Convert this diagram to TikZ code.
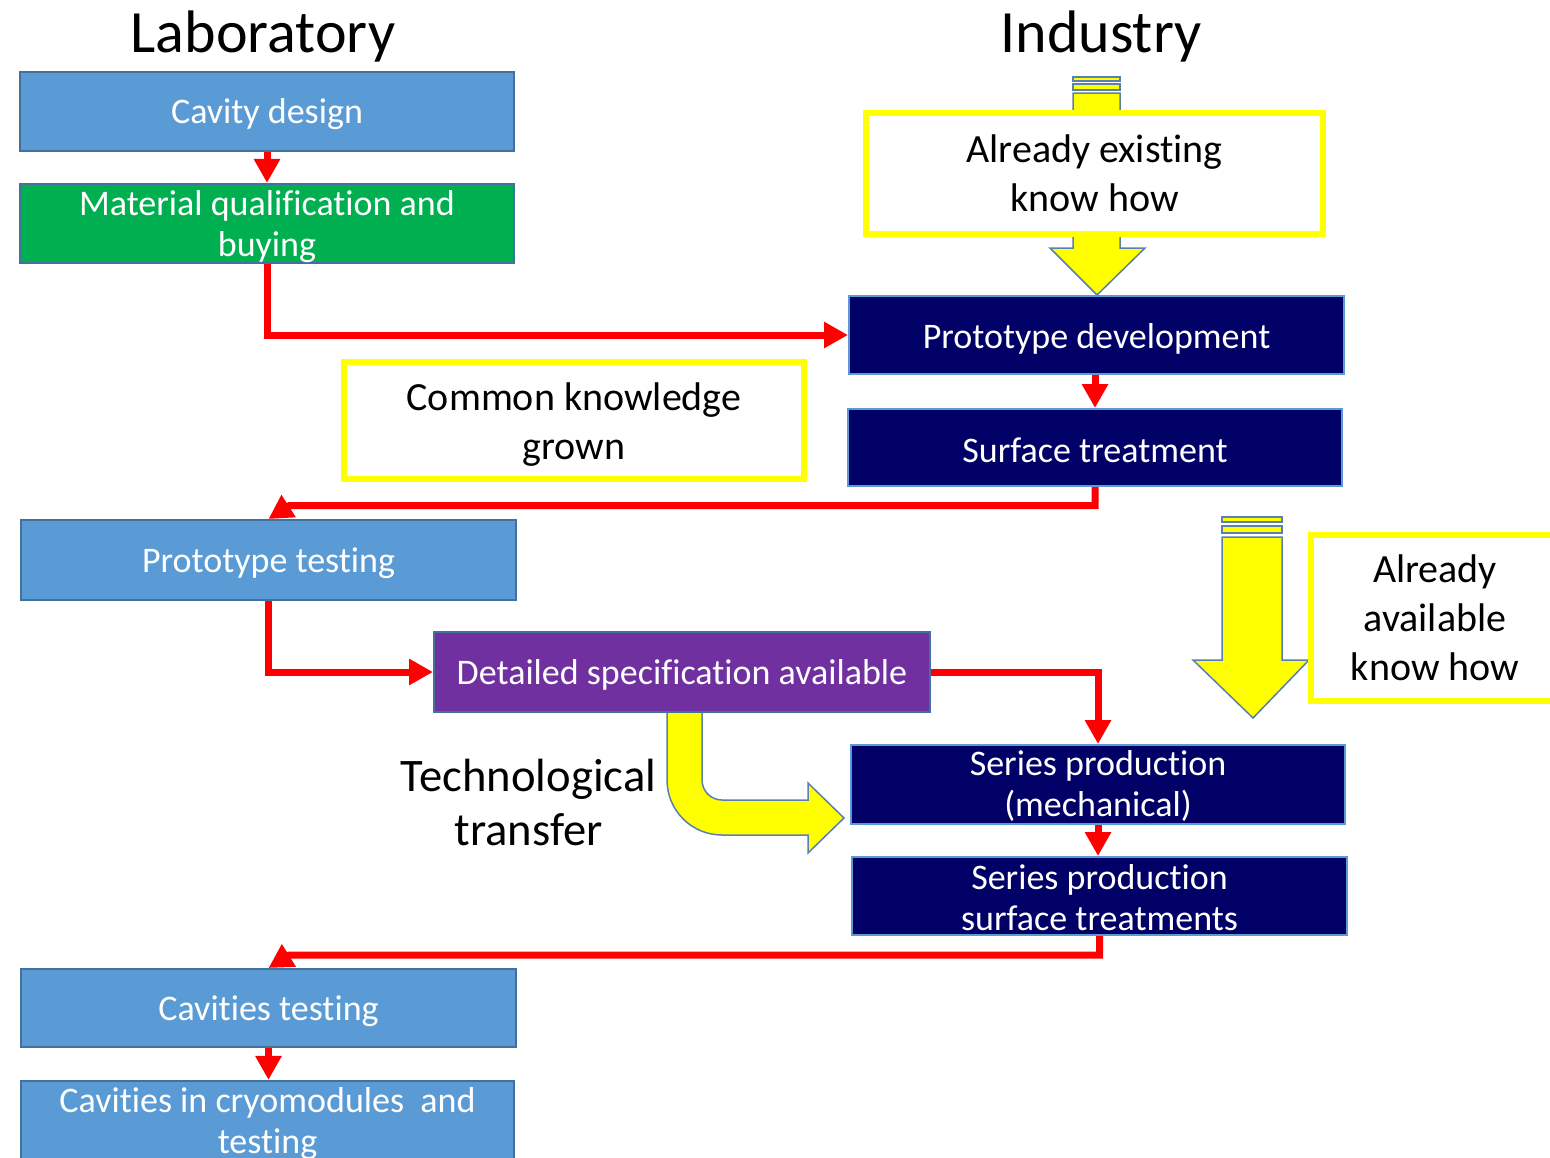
\documentclass[tikz,border=0pt]{standalone}
\usepackage{fontspec}
\setmainfont{Carlito}[Ligatures=NoCommon]
\usetikzlibrary{arrows.meta}
\definecolor{lblue}{HTML}{5B9BD5}
\definecolor{lbborder}{HTML}{41719C}
\definecolor{mgreen}{HTML}{00B050}
\definecolor{navy}{HTML}{000066}
\definecolor{purp}{HTML}{7030A0}
\definecolor{ared}{HTML}{FF0000}
\definecolor{ayellow}{HTML}{FFFF00}
\definecolor{aoutline}{HTML}{5A80B0}
\newcommand{\lift}[1]{\rule{0pt}{#1}}
\begin{document}
\begin{tikzpicture}[x=0.5pt,y=-0.5pt,
  procbox/.style={rectangle, draw=lbborder, line width=1pt, text=white,
    font=\fontsize{18}{20.5}\selectfont, align=center, inner sep=0pt,
    minimum width=247pt, minimum height=39.5pt},
  labbox/.style={procbox, fill=lblue},
  matbox/.style={procbox, fill=mgreen},
  indbox/.style={procbox, fill=navy, draw=lblue},
  specbox/.style={procbox, fill=purp},
  knowbox/.style={rectangle, draw=ayellow, line width=3pt, fill=white, text=black,
    font=\fontsize{20}{24.5}\selectfont, align=center, inner sep=0pt},
  flow/.style={draw=ared, line width=3.5pt, -{Triangle[length=12pt,width=12.5pt]}},
  blockarrow/.style={fill=ayellow, draw=aoutline, line width=0.75pt, line join=miter},
  titletext/.style={font=\fontsize{30}{36}\selectfont, anchor=base, inner sep=0pt}]
\useasboundingbox (0,0) rectangle (1550,1157);
\clip (0,0) rectangle (1550,1157);

% titles
\node[titletext] (labtitle) at (263,52) {Laboratory};
\node[titletext] (indtitle) at (1101,52) {Industry};

% block arrows (behind boxes)
\draw[blockarrow] (1073,77) rectangle (1120,81);
\draw[blockarrow] (1073,84) rectangle (1120,90);
\draw[blockarrow] (1073,93) -- (1120,93) -- (1120,248) -- (1145,248) -- (1097,295)
  -- (1050,248) -- (1073,248) -- cycle;

\draw[blockarrow] (1222,517) rectangle (1282,522);
\draw[blockarrow] (1222,526) rectangle (1282,533);
\draw[blockarrow] (1222,537) -- (1282,537) -- (1282,660) -- (1309,660) -- (1253,718)
  -- (1193,660) -- (1222,660) -- cycle;

\draw[blockarrow] (702,705) -- (702,780) .. controls (702,791) and (711,800) .. (722,800)
  -- (808,800) -- (808,783) -- (844,818) -- (808,853) -- (808,835) -- (722,835)
  .. controls (691.6,835) and (667,810.4) .. (667,780) -- (667,705) -- cycle;

% process boxes
\node[labbox] (cav) at (267,111.5) {\lift{15.5pt}Cavity design};
\node[matbox] (mat) at (267,223.5) {\lift{16pt}Material qualification and\\buying};
\node[indbox, minimum width=247.5pt, minimum height=39pt] (pdev) at (1096.5,335) {\lift{16pt}Prototype development};
\node[indbox, minimum height=38.5pt] (surf) at (1095,447.5) {\lift{15pt}Surface treatment};
\node[labbox, minimum width=247.5pt, minimum height=40pt] (ptest) at (268.5,560) {\lift{15.5pt}Prototype testing};
\node[specbox, minimum width=248pt, minimum height=40pt] (spec) at (682,672) {\lift{15.5pt}Detailed specification available};
\node[indbox] (ser1) at (1098,784.5) {\lift{14pt}Series production\\(mechanical)};
\node[indbox, minimum width=247.5pt, minimum height=39pt] (ser2) at (1099.5,896) {\lift{14pt}Series production\\surface treatments};
\node[labbox, minimum width=247.5pt, minimum height=39pt] (ctest) at (268.5,1008) {\lift{15.5pt}Cavities testing};
\node[labbox, minimum width=246.5pt] (cryo) at (267.5,1120.5) {\lift{16pt}Cavities in cryomodules~~and\\testing};

% know-how boxes
\node[knowbox, minimum width=228.5pt, minimum height=60.5pt] (exist) at (1094.5,173.5) {Already existing\\know how};
\node[knowbox, minimum width=230pt, minimum height=58.5pt] (common) at (574,420.5) {\lift{17.8pt}Common knowledge\\grown};
\node[knowbox, minimum width=124pt, minimum height=83pt] (avail) at (1435,618) {Already\\available\\know how};

% label
\node[font=\fontsize{23.3}{27}\selectfont, align=center, inner sep=0pt] (tt) at (528.5,802) {Technological\\transfer};

% connectors
\coordinate (b1) at (289.5,505.5);
\coordinate (b2) at (289.5,955);
\draw[flow] (cav) -- (mat);
\draw[flow] (mat.south) |- (pdev.west);
\draw[flow] (surf.north |- pdev.south) -- (surf.north);
\draw[flow] (surf.south) |- (b1) -- (ptest.north);
\draw[flow] (ptest.south) |- (spec.west);
\draw[flow] (spec.east) -| (ser1.north);
\draw[flow] (ser1.south) -- (ser1.south |- ser2.north);
\draw[flow] (ser2.south) |- (b2) -- (ctest.north);
\draw[flow] (ctest.south) -- (ctest.south |- cryo.north);
\end{tikzpicture}
\end{document}
